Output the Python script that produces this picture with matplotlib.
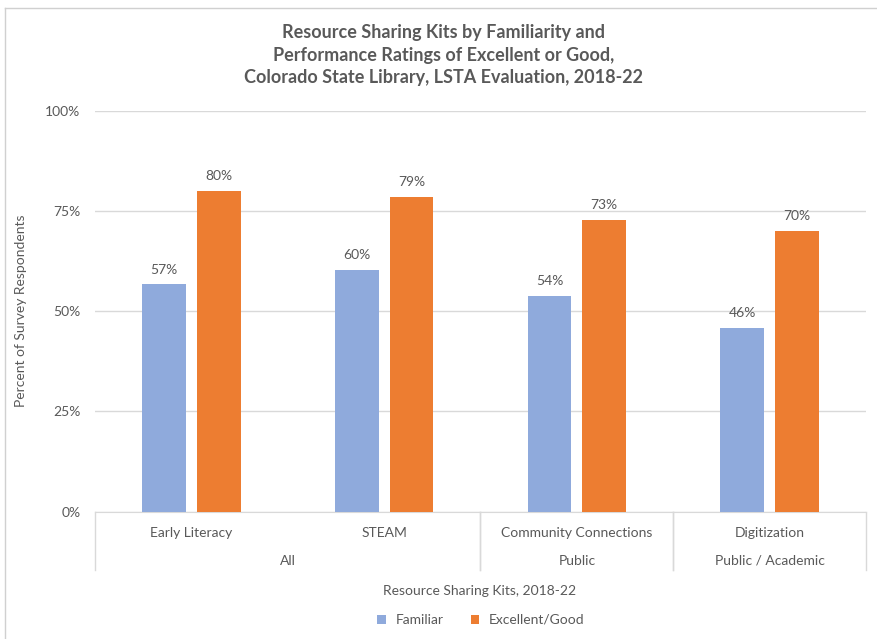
import matplotlib.pyplot as plt
from matplotlib.lines import Line2D
from matplotlib.transforms import blended_transform_factory

plt.rcParams['font.family'] = ['Lato', 'DejaVu Sans']

# data
kits = ['Early Literacy', 'STEAM', 'Community Connections', 'Digitization']
groups = ['All', 'Public', 'Public / Academic']
group_spans = [(0, 1), (2, 2), (3, 3)]
familiar = [56.7, 60.3, 53.9, 45.9]
excellent = [80.0, 78.6, 72.8, 70.0]
yticks = [0, 25, 50, 75, 100]

BLUE = '#8FAADC'
ORANGE = '#ED7D31'
GRID = '#D9D9D9'
TXT = '#595959'
FS = 10

W, H = 878, 639
fig = plt.figure(figsize=(W / 100, H / 100), dpi=100)
ax = fig.add_axes([95 / W, 1 - 511.7 / H, 771 / W, 401 / H])

x = list(range(len(kits)))
bw = 0.226
off = 0.142
ax.bar([i - off for i in x], familiar, bw, color=BLUE, label='Familiar', zorder=3)
ax.bar([i + off for i in x], excellent, bw, color=ORANGE, label='Excellent/Good', zorder=3)

for i in x:
    ax.text(i - off, familiar[i] + 2.2, '%d%%' % round(familiar[i]), ha='center', va='bottom',
            fontsize=FS, color=TXT)
    ax.text(i + off, excellent[i] + 2.2, '%d%%' % round(excellent[i]), ha='center', va='bottom',
            fontsize=FS, color=TXT)

ax.set_xlim(-0.5, len(kits) - 0.5)
ax.set_ylim(0, 100)
ax.set_yticks(yticks)
ax.set_yticklabels(['%d%%' % t for t in yticks], color=TXT, fontsize=FS)
ax.tick_params(axis='y', length=0, pad=10.5)
ax.set_xticks([])
ax.yaxis.grid(True, color=GRID, linewidth=1)
ax.set_axisbelow(True)
for s in ['top', 'right', 'left']:
    ax.spines[s].set_visible(False)
ax.spines['bottom'].set_color(GRID)
ax.set_ylabel('Percent of Survey Respondents', color=TXT, fontsize=FS, labelpad=13)

# multi-level category axis
tr = blended_transform_factory(ax.transData, ax.transAxes)
low = -0.145
for i in x:
    ax.text(i, -0.052, kits[i], transform=tr, ha='center', va='center', fontsize=FS, color=TXT)
for g, (a, b) in zip(groups, group_spans):
    ax.text((a + b) / 2, -0.122, g, transform=tr, ha='center', va='center', fontsize=FS, color=TXT)
    for edge in (a - 0.5, b + 0.5):
        ax.add_line(Line2D([edge, edge], [0, low], transform=tr, color=GRID, lw=1, clip_on=False))

fig.text(480 / W, 1 - 591 / H, 'Resource Sharing Kits, 2018-22', ha='center', va='center',
         fontsize=FS, color=TXT)
leg = fig.legend(loc='center', bbox_to_anchor=(481 / W, 1 - 620 / H), ncol=2, frameon=False,
                 fontsize=FS, handlelength=0.6, handleheight=0.6, columnspacing=2.0,
                 handletextpad=0.7)
for t in leg.get_texts():
    t.set_color(TXT)

fig.text(444 / W, 1 - 55 / H,
         'Resource Sharing Kits by Familiarity and\nPerformance Ratings of Excellent or Good,\n'
         'Colorado State Library, LSTA Evaluation, 2018-22',
         ha='center', va='center', fontsize=13, fontweight='bold', color=TXT, linespacing=1.4)

# outer chart border (cut off at right and bottom)
fig.add_artist(Line2D([5 / W, 5 / W], [0, 1 - 8 / H], transform=fig.transFigure, color='#D0D0D0', lw=1))
fig.add_artist(Line2D([5 / W, 1], [1 - 8 / H, 1 - 8 / H], transform=fig.transFigure, color='#D0D0D0', lw=1))

fig.savefig('out.png', dpi=100)
